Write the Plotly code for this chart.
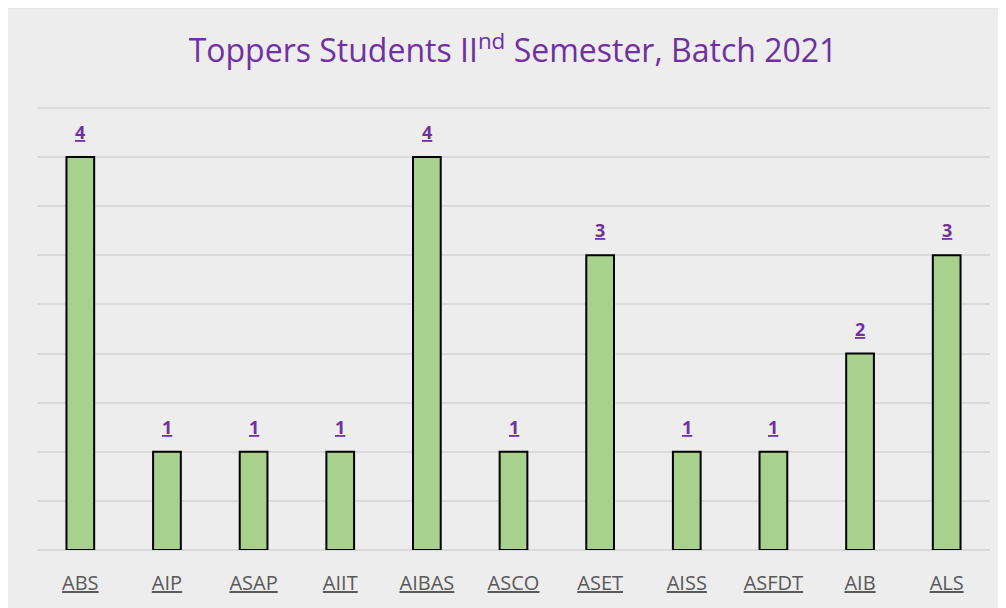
import plotly.graph_objects as go

categories = ["ABS", "AIP", "ASAP", "AIIT", "AIBAS", "ASCO", "ASET", "AISS", "ASFDT", "AIB", "ALS"]
students = [4, 1, 1, 1, 4, 1, 3, 1, 1, 2, 3]
y_max = 4.5

fig = go.Figure()
fig.add_trace(go.Bar(
    x=categories,
    y=students,
    marker=dict(color="#a9d18e", line=dict(color="black", width=2)),
    width=0.32,
    hoverinfo="x+y",
))

for c, v in zip(categories, students):
    fig.add_annotation(x=c, y=v, text=f"<b><u>{v}</u></b>", showarrow=False,
                       yanchor="middle", yshift=25,
                       font=dict(color="#7030a0", size=18, family="Open Sans"))

fig.add_shape(type="rect", xref="paper", yref="paper",
              x0=-0.04, x1=1.1, y0=-0.3, y1=(99 + 0.5) / 443 + 1,
              fillcolor="#ededed", line=dict(color="#d9d9d9", width=1.5), layer="below")
# top gridline at the range limit
fig.add_shape(type="line", xref="paper", yref="y", x0=0, x1=1, y0=y_max, y1=y_max,
              line=dict(color="#d9d9d9", width=1.5), layer="below")

fig.update_layout(
    width=1006, height=608,
    margin=dict(l=29, r=24, t=99, b=66),
    paper_bgcolor="white",
    plot_bgcolor="rgba(0,0,0,0)",
    title=dict(text="Toppers Students II<sup>nd</sup> Semester, Batch 2021",
               x=505 / 1006, xref="container", xanchor="center",
               y=1 - 43 / 608, yref="container", yanchor="middle",
               font=dict(color="#7030a0", size=32, family="Open Sans")),
    showlegend=False,
    xaxis=dict(tickvals=categories, ticktext=[f"<u>{c}</u>" for c in categories],
               tickfont=dict(color="#595959", size=20, family="Open Sans"),
               showgrid=False, showline=False, ticks="outside", ticklen=15,
               tickcolor="rgba(0,0,0,0)"),
    yaxis=dict(range=[0, 4.51], dtick=0.5, showticklabels=False, showgrid=True,
               gridcolor="#d9d9d9", gridwidth=1.5, zeroline=True, zerolinecolor="#d9d9d9",
               zerolinewidth=1.5, showline=False),
)

fig.write_html("out.html")
